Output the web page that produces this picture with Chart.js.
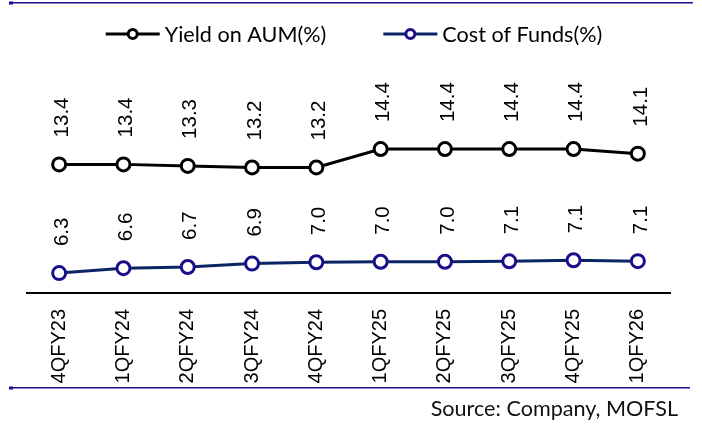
<!DOCTYPE html>
<html><head><meta charset="utf-8">
<script src="https://cdn.jsdelivr.net/npm/chart.js@4.4.1/dist/chart.umd.min.js"></script>
<style>html,body{margin:0;padding:0;background:#fff;}#wrap{width:702px;height:425px;position:relative;}</style>
</head><body><div id="wrap"><canvas id="c" width="702" height="425"></canvas></div>
<script>
const categories = ['4QFY23','1QFY24','2QFY24','3QFY24','4QFY24','1QFY25','2QFY25','3QFY25','4QFY25','1QFY26'];
const yieldOnAUM = [13.4, 13.4, 13.3, 13.2, 13.2, 14.4, 14.4, 14.4, 14.4, 14.1];
const costOfFunds = [6.30, 6.62, 6.70, 6.92, 7.01, 7.04, 7.04, 7.07, 7.14, 7.08];
const seriesNames = ['Yield on AUM(%)', 'Cost of Funds(%)'];
const sourceText = 'Source: Company, MOFSL';

const RULE = '#1a0f8a';
const LEGEND_FONT = '21.6px Lato';

const valueLabels = {
  id: 'valueLabels',
  afterDatasetsDraw(chart) {
    const ctx = chart.ctx;
    chart.data.datasets.forEach((ds, i) => {
      const meta = chart.getDatasetMeta(i);
      meta.data.forEach((pt, j) => {
        ctx.save();
        ctx.translate(pt.x + 3, pt.y - 27);
        ctx.rotate(-Math.PI / 2);
        ctx.font = '20.5px "Liberation Sans"';
        ctx.fillStyle = '#000';
        ctx.textAlign = 'left';
        ctx.textBaseline = 'middle';
        ctx.fillText(ds.data[j].toFixed(1), 0, 0);
        ctx.restore();
      });
    });
  }
};

const decorations = {
  id: 'decorations',
  afterDraw(chart) {
    const ctx = chart.ctx;
    ctx.save();
    ctx.strokeStyle = RULE;
    ctx.lineWidth = 1.5;
    ctx.beginPath(); ctx.moveTo(9, 2.75); ctx.lineTo(693, 2.75); ctx.stroke();
    ctx.beginPath(); ctx.moveTo(9, 387.75); ctx.lineTo(690, 387.75); ctx.stroke();
    ctx.fillStyle = RULE;
    ctx.fillRect(9, 1.5, 4, 3);
    ctx.fillRect(9, 386.5, 4, 3);
    ctx.font = LEGEND_FONT;
    const symW = 54, gap = 5, itemGap = 57;
    const items = chart.data.datasets.map(ds => ({ds, w: ctx.measureText(ds.label).width}));
    let total = items.reduce((s, it) => s + symW + gap + it.w, 0) + itemGap * (items.length - 1);
    let x = 354 - total / 2;
    const cy = 34;
    items.forEach(it => {
      ctx.strokeStyle = it.ds.borderColor;
      ctx.lineWidth = 3;
      ctx.beginPath(); ctx.moveTo(x, cy); ctx.lineTo(x + symW, cy); ctx.stroke();
      ctx.beginPath(); ctx.arc(x + symW / 2, cy, 4.5, 0, Math.PI * 2);
      ctx.fillStyle = '#fff'; ctx.fill();
      ctx.strokeStyle = it.ds.pointBorderColor; ctx.stroke();
      ctx.fillStyle = '#000';
      ctx.textAlign = 'left'; ctx.textBaseline = 'alphabetic';
      ctx.fillText(it.ds.label, x + symW + gap, 41.5);
      x += symW + gap + it.w + itemGap;
    });
    ctx.font = LEGEND_FONT;
    ctx.fillStyle = '#111';
    ctx.textAlign = 'right';
    ctx.fillText(sourceText, 678, 416);
    ctx.restore();
  }
};

new Chart(document.getElementById('c'), {
  type: 'line',
  data: {
    labels: categories,
    datasets: [
      { label: seriesNames[0], data: yieldOnAUM, borderColor: '#000', borderWidth: 3,
        pointRadius: 6.5, pointBorderWidth: 3, pointBackgroundColor: '#fff', pointBorderColor: '#000', tension: 0 },
      { label: seriesNames[1], data: costOfFunds, borderColor: '#0a2466', borderWidth: 3,
        pointRadius: 6.5, pointBorderWidth: 3, pointBackgroundColor: '#fff', pointBorderColor: '#1a0f8a', tension: 0 }
    ]
  },
  options: {
    responsive: false,
    devicePixelRatio: 1,
    animation: false,
    layout: { padding: { left: 27, right: 32, top: 48, bottom: 37 } },
    plugins: { legend: { display: false }, tooltip: { enabled: false } },
    scales: {
      x: {
        offset: true,
        grid: { display: false, drawTicks: false },
        border: { display: true, color: '#000', width: 2 },
        ticks: { minRotation: 90, maxRotation: 90, autoSkip: false, padding: 16, color: '#000',
                 font: { family: 'Liberation Sans', size: 20 } },
        afterFit: s => { s.height = 95; }
      },
      y: { display: false, min: 5, max: 21 }
    }
  },
  plugins: [valueLabels, decorations]
});
</script></body></html>
